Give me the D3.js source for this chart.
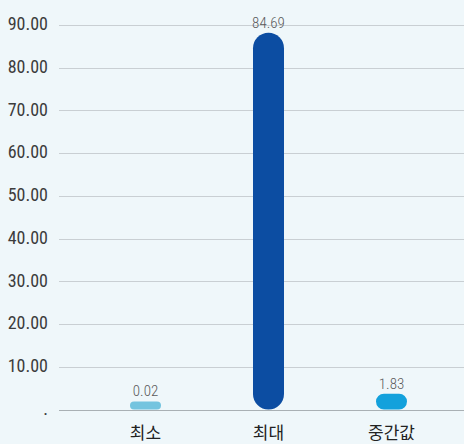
<!DOCTYPE html>
<html><head><meta charset="utf-8">
<script src="https://cdn.jsdelivr.net/npm/d3@7/dist/d3.min.js"></script>
<style>html,body{margin:0;padding:0;background:#eff7fa;}</style>
</head><body>
<svg id="c" width="464" height="444"></svg>
<script>
const categories = ["최소", "최대", "중간값"];
const values = [0.02, 84.69, 1.83];
const valueLabels = ["0.02", "84.69", "1.83"];
const colors = ["#74c4df", "#0c4da2", "#13a1dc"];
const tickValues = [0, 10, 20, 30, 40, 50, 60, 70, 80, 90];
const tickLabels = [".", "10.00", "20.00", "30.00", "40.00", "50.00", "60.00", "70.00", "80.00", "90.00"];

const svg = d3.select("#c");
const numFont = "'Roboto Condensed', 'Liberation Sans Narrow', 'Liberation Sans', sans-serif";
const y = d3.scaleLinear().domain([0, 90]).range([409.5, 25]);
const x = d3.scaleBand().domain(categories).range([84, 453]);
const barW = 31;

// gridlines
const grid = svg.append("g");
grid.selectAll("line").data(tickValues.filter(v => v > 0)).join("line")
  .attr("x1", 59).attr("x2", 464)
  .attr("y1", d => Math.round(y(d)) + 0.5).attr("y2", d => Math.round(y(d)) + 0.5)
  .attr("stroke", "#c9cfd3").attr("stroke-width", 1);

// y axis labels
const yAxis = d3.axisLeft(y).tickValues(tickValues)
  .tickFormat((d, i) => tickLabels[i]).tickSize(0).tickPadding(0);
const ga = svg.append("g").attr("transform", "translate(48,0)").call(yAxis);
ga.select(".domain").remove();
ga.selectAll("text").attr("font-family", numFont).attr("font-size", 18).attr("font-weight", 400)
  .attr("fill", "#3c3c3c").attr("dy", "0.0em").attr("dominant-baseline", "middle");

// bars
function pillTop(v) {
  const h = y(0) - y(v);
  return y(v) - Math.min(15, Math.max(8, h));
}
function pillPath(cx, top, bottom, w) {
  const h = bottom - top;
  const r = Math.min(w / 2, h / 2);
  const p = d3.path();
  const l = cx - w / 2, rt = cx + w / 2;
  p.moveTo(l + r, top);
  p.lineTo(rt - r, top);
  p.arcTo(rt, top, rt, top + r, r);
  p.lineTo(rt, bottom - r);
  p.arcTo(rt, bottom, rt - r, bottom, r);
  p.lineTo(l + r, bottom);
  p.arcTo(l, bottom, l, bottom - r, r);
  p.lineTo(l, top + r);
  p.arcTo(l, top, l + r, top, r);
  p.closePath();
  return p.toString();
}
const data = categories.map((c, i) => ({c, v: values[i], label: valueLabels[i], color: colors[i]}));
svg.append("g").selectAll("path").data(data).join("path")
  .attr("d", d => pillPath(x(d.c) + x.bandwidth() / 2, pillTop(d.v), y(0), barW))
  .attr("fill", d => d.color);

// baseline
svg.append("line").attr("x1", 59).attr("x2", 464)
  .attr("y1", Math.round(y(0)) + 0.5).attr("y2", Math.round(y(0)) + 0.5)
  .attr("stroke", "#a9b0b4").attr("stroke-width", 1.2);

// value labels
svg.append("g").selectAll("text").data(data).join("text")
  .attr("x", d => x(d.c) + x.bandwidth() / 2)
  .attr("y", d => pillTop(d.v) - 5)
  .attr("text-anchor", "middle")
  .attr("font-family", numFont).attr("font-size", 15).attr("font-weight", 300)
  .attr("fill", "#5a5a5a")
  .text(d => d.label);

// category labels
const xAxis = d3.axisBottom(x).tickSize(0).tickPadding(0);
const gx = svg.append("g").attr("transform", "translate(0,434)").call(xAxis);
gx.select(".domain").remove();
gx.selectAll("text").attr("font-family", "'Noto Sans CJK KR', sans-serif")
  .attr("font-size", 17).attr("fill", "#222").attr("dy", 0).attr("dominant-baseline", "middle");
</script>
</body></html>
